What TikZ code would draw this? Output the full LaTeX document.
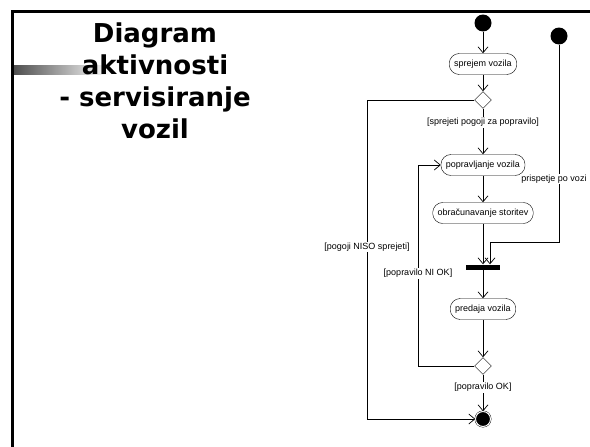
\documentclass[tikz,border=0pt]{standalone}
\usepackage{fontspec}
\setmainfont{Liberation Sans}
\newfontfamily\titlefont{DejaVu Sans}
\usetikzlibrary{shapes.geometric,arrows.meta}

\begin{document}
\begin{tikzpicture}[
    x=1pt, y=1pt,
    node distance=40pt,
    font=\fontsize{9}{10}\selectfont,
    activity/.style={
      rectangle,
      draw,
      rounded corners=10pt,
      minimum height=21pt,
      inner xsep=5pt,
      inner ysep=0pt
    },
    decision/.style={diamond, draw, fill=white, minimum size=17pt, inner sep=0pt},
    startdot/.style={circle, fill=black, minimum size=17pt, inner sep=0pt},
    enddot/.style={circle, draw, double, double distance=1pt, fill=black, minimum size=15pt, inner sep=0pt},
    forkbar/.style={rectangle, fill=black, minimum width=34pt, minimum height=5pt, inner sep=0pt},
    guard/.style={fill=white, inner sep=1pt},
    line/.style={draw, -{Straight Barb[length=6pt,width=10pt]}, line width=0.7pt},
]
    \useasboundingbox (0,0) rectangle (590,-447);
    % slide frame and title
    \shade [left color=black!70, right color=white] (13,-65) rectangle (110,-74);
    \draw [line width=3pt] (12,-447) -- (12,-11) -- (590,-11);
    \node [anchor=north, align=center, inner sep=0pt,
      font=\titlefont\bfseries\fontsize{26}{32}\selectfont] (title) at (155,-23)
      {Diagram\\aktivnosti\\- servisiranje\\vozil};

    \node [startdot] (init) at (483,-23) {};
    \node [activity, below of=init, node distance=41pt] (sprejem) {sprejem vozila};
    \node [decision, below of=sprejem, node distance=36pt] (dec1) {};
    \node [activity, below of=dec1, node distance=65pt] (poprav) {popravljanje vozila};
    \node [activity, below of=poprav, node distance=48pt] (obracun) {obračunavanje storitev};
    \node [forkbar, below of=obracun, node distance=54pt] (fork) {};
    \node [activity, below of=fork, node distance=42pt] (predaja) {predaja vozila};
    \node [decision, below of=predaja, node distance=57pt] (dec2) {};
    \node [enddot, below of=dec2, node distance=53pt] (stop) {};

    \node [startdot] (init2) at (559,-36) {};
    \coordinate (vozi) at (490,-242);
    \coordinate (niso) at (367,-100);
    \coordinate (niok) at (418,-366);

    \path [line] (init) -- (sprejem);
    \path [line] (sprejem) -- (dec1);
    \path [line] (dec1) -- node [guard, pos=0.3] {[sprejeti pogoji za popravilo]} (poprav);
    \path [line] (poprav) -- (obracun);
    \path [line] (obracun) -- (fork);
    \path [line] (fork) -- (predaja);
    \path [line] (predaja) -- (dec2);
    \path [line] (dec2) -- node [guard, pos=0.35] {[popravilo OK]} (stop);
    \path [line] (dec1.west) -- (niso) |- node [guard, pos=0.23] {[pogoji NISO sprejeti]} (stop.west);
    \path [line] (dec2.west) -- (niok) |- node [guard, pos=0.23] {[popravilo NI OK]} (poprav.west);
    \path [line] (init2) |- node [guard, pos=0.34, xshift=-5pt] {prispetje po vozi} (vozi) -- (vozi |- fork.north);

\end{tikzpicture}
\end{document}
